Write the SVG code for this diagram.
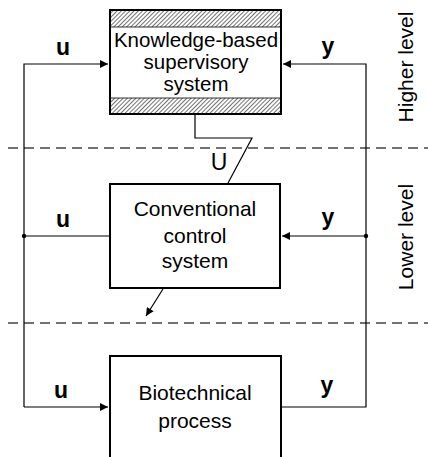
<svg xmlns="http://www.w3.org/2000/svg" width="428" height="457" viewBox="0 0 428 457">
  <style>
    .box { fill: #fff; stroke: #000; stroke-width: 2; }
    .wire { fill: none; stroke: #000; stroke-width: 1.2; }
    .dash { fill: none; stroke: #444; stroke-width: 1.3; stroke-dasharray: 10 6; }
    .txt { font-family: "Liberation Sans", Arial, sans-serif; font-size: 21px; fill: #000; text-anchor: middle; }
    .ktxt { font-family: "Liberation Sans", Arial, sans-serif; font-size: 20.5px; fill: #000; text-anchor: middle; }
    .sig { font-family: "Liberation Sans", Arial, sans-serif; font-size: 23px; font-weight: bold; fill: #000; text-anchor: middle; }
    .lvl { font-family: "Liberation Sans", Arial, sans-serif; font-size: 21px; fill: #000; text-anchor: middle; }
  </style>
  <defs>
    <pattern id="hatch" width="3" height="3" patternUnits="userSpaceOnUse" patternTransform="rotate(45)">
      <rect width="3" height="3" fill="#fff"/>
      <line x1="0" y1="0" x2="0" y2="3" stroke="#444" stroke-width="1.5"/>
    </pattern>
    <marker id="arrow" viewBox="0 0 10 10" refX="10" refY="5" markerWidth="9" markerHeight="8" markerUnits="userSpaceOnUse" orient="auto">
      <path d="M0,0 L10,5 L0,10 Z" fill="#000"/>
    </marker>
  </defs>

  <!-- level separators -->
  <line class="dash" x1="8" y1="148" x2="428" y2="148"/>
  <line class="dash" x1="8" y1="323" x2="428" y2="323"/>

  <!-- connectors -->
  <g id="connectors">
    <!-- left u bus -->
    <polyline class="wire" points="24,407 24,64 108,64" marker-end="url(#arrow)"/>
    <line class="wire" x1="24" y1="236" x2="110" y2="236"/>
    <line class="wire" x1="24" y1="407" x2="108" y2="407" marker-end="url(#arrow)"/>
    <!-- right y bus -->
    <polyline class="wire" points="281,407 366,407 366,64 283,64" marker-end="url(#arrow)"/>
    <line class="wire" x1="366" y1="236" x2="282" y2="236" marker-end="url(#arrow)"/>
    <circle cx="24" cy="236" r="2.2" fill="#000"/>
    <circle cx="366" cy="236" r="2.2" fill="#000"/>
    <!-- supervisory link U -->
    <polyline class="wire" points="195,114 195,138 252,138 228,183"/>
    <!-- downward action -->
    <line class="wire" x1="163" y1="289" x2="146" y2="316" marker-end="url(#arrow)"/>
  </g>

  <!-- higher level: knowledge-based supervisory system -->
  <g id="supervisory">
    <rect class="box" x="110" y="10" width="171" height="104"/>
    <rect x="111" y="11" width="169" height="16" fill="url(#hatch)"/>
    <rect x="111" y="98" width="169" height="15" fill="url(#hatch)"/>
    <line x1="111" y1="27" x2="280" y2="27" stroke="#000" stroke-width="0.8"/>
    <line x1="111" y1="98" x2="280" y2="98" stroke="#000" stroke-width="0.8"/>
    <text class="ktxt" x="196" y="47">Knowledge-based</text>
    <text class="ktxt" x="196" y="69">supervisory</text>
    <text class="ktxt" x="196" y="91">system</text>
  </g>

  <!-- lower level: conventional controller -->
  <g id="controller">
    <rect class="box" x="110" y="184" width="170" height="104"/>
    <text class="txt" x="195" y="216">Conventional</text>
    <text class="txt" x="195" y="243">control</text>
    <text class="txt" x="195" y="268">system</text>
  </g>

  <!-- plant -->
  <g id="process">
    <rect class="box" x="110" y="356" width="171" height="110"/>
    <text class="txt" x="195" y="400">Biotechnical</text>
    <text class="txt" x="195" y="428">process</text>
  </g>

  <!-- signal labels -->
  <g id="labels">
    <text class="sig" x="63" y="55">u</text>
    <text class="sig" x="328" y="54">y</text>
    <text class="sig" x="63" y="227">u</text>
    <text class="sig" x="328" y="225">y</text>
    <text class="sig" x="61" y="398">u</text>
    <text class="sig" x="327" y="393">y</text>
    <text class="txt" x="219" y="170" style="font-size:23px">U</text>
  </g>

  <!-- level captions -->
  <text class="lvl" x="413" y="67" transform="rotate(-90 413 67)">Higher level</text>
  <text class="lvl" x="413" y="237" transform="rotate(-90 413 237)">Lower level</text>
</svg>
